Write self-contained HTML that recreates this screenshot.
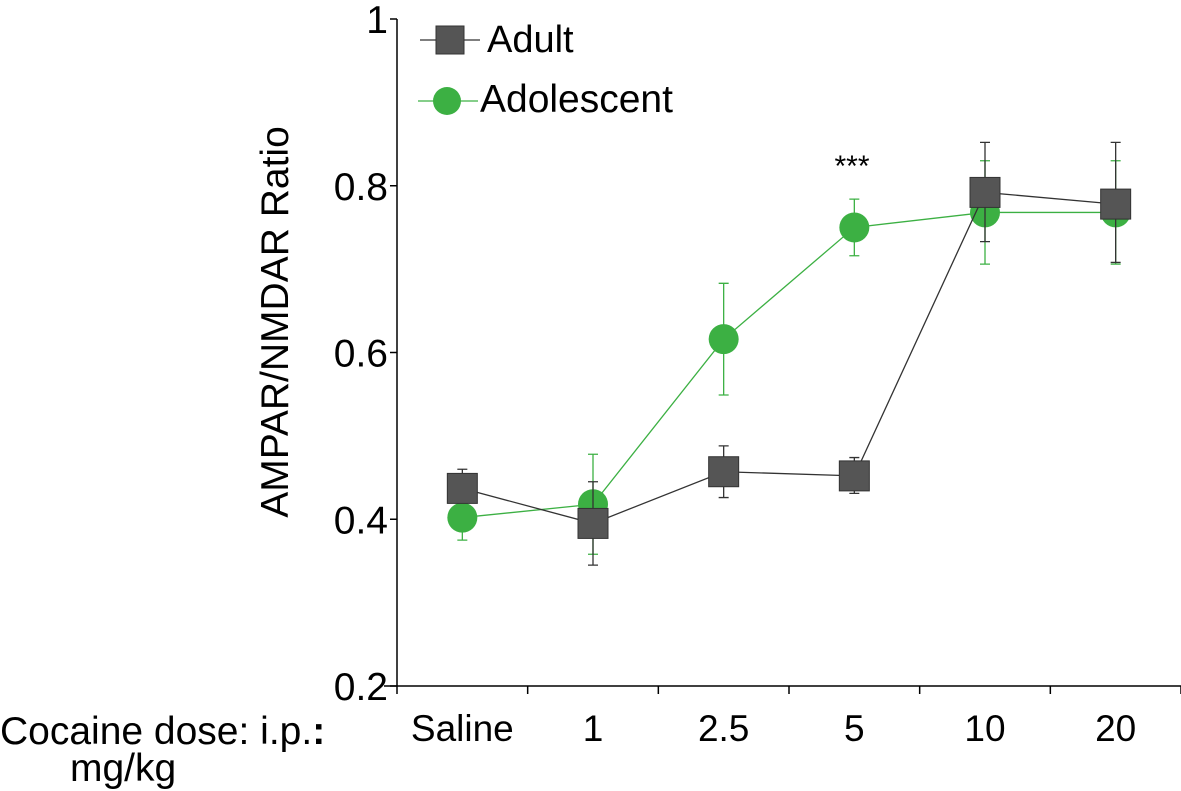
<!DOCTYPE html>
<html><head><meta charset="utf-8"><style>
body{margin:0;background:#fff;}
svg{display:block;font-family:"Liberation Sans",sans-serif;}
</style></head><body>
<svg id="chart" width="1181" height="791">
<g id="axes"></g>
<g id="marks"></g>
<g>
<line x1="420" y1="40" x2="480" y2="40" stroke="#333" stroke-width="1.3"/>
<rect x="436" y="26" width="28" height="28" fill="#555" stroke="#333"/>
<text x="487" y="52" font-size="38">Adult</text>
<line x1="418" y1="101" x2="478" y2="101" stroke="#3cb043" stroke-width="1.3"/>
<circle cx="447" cy="101" r="14" fill="#3cb043"/>
<text x="480" y="112" font-size="39">Adolescent</text>
</g>
<text x="852" y="176" font-size="30" text-anchor="middle">***</text>
<text transform="translate(288,322) rotate(-90)" font-size="39" text-anchor="middle">AMPAR/NMDAR Ratio</text>
<text x="0" y="744" font-size="39">Cocaine dose: i.p.<tspan font-weight="bold">:</tspan></text>
<text x="70" y="781" font-size="39">mg/kg</text>
</svg>
<script>
const categories=["Saline","1","2.5","5","10","20"];
const adultMean=[0.437,0.395,0.457,0.452,0.792,0.778];
const adultLo=[0.437,0.345,0.426,0.431,0.733,0.708];
const adultHi=[0.460,0.445,0.488,0.474,0.852,0.852];
const adolMean=[0.402,0.418,0.616,0.750,0.768,0.768];
const adolLo=[0.375,0.358,0.549,0.716,0.706,0.706];
const adolHi=[0.430,0.478,0.683,0.784,0.830,0.830];
const yTicks=[0.2,0.4,0.6,0.8,1];
const yTickLabels=["0.2","0.4","0.6","0.8","1"];

const NS="http://www.w3.org/2000/svg";
const X0=397,X1=1181,Y0=686;
const xs=i=>X0+(X1-X0)/categories.length*(i+0.5);
const ys=v=>686-(v-0.2)/0.8*667;
function mk(p,t,a){const e=document.createElementNS(NS,t);for(const k in a)e.setAttribute(k,a[k]);p.appendChild(e);return e;}
const ax=document.getElementById('axes'),mg=document.getElementById('marks');
let e=mk(ax,'line',{x1:X0,y1:ys(1),x2:X0,y2:Y0,stroke:'#000','stroke-width':1.5});


e=mk(ax,'line',{x1:384,y1:Y0,x2:X1,y2:Y0,stroke:'#000','stroke-width':1.5});


yTicks.forEach((v,i)=>{
 let t=mk(ax,'line',{x1:X0-7,y1:ys(v),x2:X0,y2:ys(v),stroke:'#000','stroke-width':1.5});
 
 
 let l=mk(ax,'text',{x:X0-9,y:ys(v)+14,'font-size':39,'text-anchor':'end'});l.textContent=yTickLabels[i];
 
 
});
for(let i=0;i<=categories.length;i++){
 const x=X0+(X1-X0)/categories.length*i;
 let t=mk(ax,'line',{x1:x,y1:Y0,x2:x,y2:Y0+8,stroke:'#000','stroke-width':1.5});
 
 
}
categories.forEach((c,i)=>{
 let l=mk(ax,'text',{x:xs(i),y:741,'font-size':37,'text-anchor':'middle'});l.textContent=c;
 
 
});
function series(mean,lo,hi,col,name,sq){
 const g=mk(mg,'g',{});
 
 
 mean.forEach((v,i)=>{
  let b=mk(g,'path',{d:`M${xs(i)},${ys(lo[i])}V${ys(hi[i])}M${xs(i)-5},${ys(lo[i])}h10M${xs(i)-5},${ys(hi[i])}h10`,stroke:col,'stroke-width':1.3,fill:'none'});
  
  
 });
 let p=mk(g,'polyline',{points:mean.map((v,i)=>xs(i)+','+ys(v)).join(' '),stroke:col,'stroke-width':1.3,fill:'none'});
 
 
 mean.forEach((v,i)=>{
  let m=sq?mk(g,'rect',{x:xs(i)-15,y:ys(v)-15,width:30,height:30,fill:'#555',stroke:'#333'}):mk(g,'circle',{cx:xs(i),cy:ys(v),r:15,fill:'#3cb043'});
  
  
 });
}
series(adolMean,adolLo,adolHi,'#3cb043','adolescent',false);
series(adultMean,adultLo,adultHi,'#333','adult',true);
</script>
</body></html>
